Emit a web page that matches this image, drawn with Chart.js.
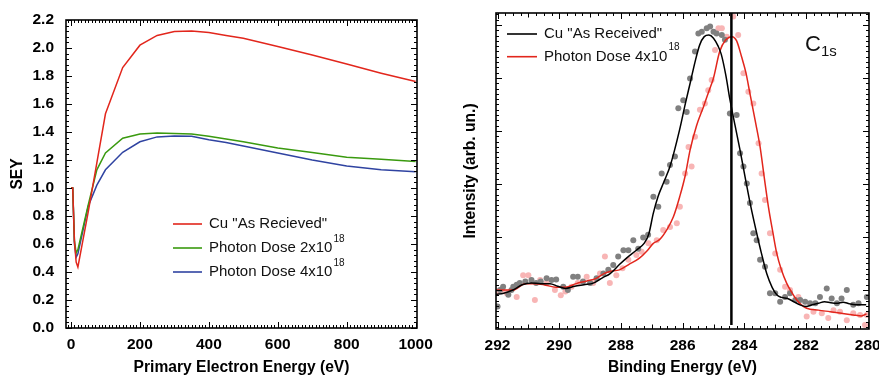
<!DOCTYPE html>
<html>
<head>
<meta charset="utf-8">
<script src="https://cdn.jsdelivr.net/npm/chart.js@4.4.1/dist/chart.umd.min.js"></script>
<style>
  html, body { margin: 0; padding: 0; background: #fff; }
  #wrap { position: relative; width: 879px; height: 378px; }
  canvas { position: absolute; top: 0; }
</style>
</head>
<body>
<div id="wrap">
  <canvas id="seyChart" width="440" height="378" style="left:0"></canvas>
  <canvas id="xpsChart" width="439" height="378" style="left:440px"></canvas>
</div>
<script>
// --- left panel: SEY vs primary energy ---
const seyEnergy = [0, 5, 10, 15, 20, 50, 75, 100, 150, 200, 250, 300, 350, 400, 450, 500, 600, 700, 800, 900, 1000];
const seyAsReceived = [1.0, 1.0, 0.62, 0.47, 0.435, 0.83, 1.18, 1.53, 1.86, 2.02, 2.09, 2.118, 2.122, 2.11, 2.09, 2.07, 2.01, 1.95, 1.885, 1.82, 1.76];
const seyDose2e18 = [1.0, 1.0, 0.62, 0.535, 0.56, 0.88, 1.13, 1.25, 1.355, 1.385, 1.392, 1.39, 1.385, 1.37, 1.35, 1.33, 1.285, 1.253, 1.22, 1.205, 1.19];
const seyDose4e18 = [1.0, 1.0, 0.6, 0.505, 0.53, 0.87, 1.02, 1.13, 1.255, 1.33, 1.365, 1.372, 1.37, 1.345, 1.325, 1.30, 1.25, 1.2, 1.157, 1.13, 1.116];
const seyXTicks = [0, 200, 400, 600, 800, 1000];
const seyYTicks = [0.0, 0.2, 0.4, 0.6, 0.8, 1.0, 1.2, 1.4, 1.6, 1.8, 2.0, 2.2];

// --- right panel: C1s XPS spectra ---
const blackLineE = [292.05, 291.8, 291.5, 291.2, 290.9, 290.6, 290.3, 290.05, 289.8, 289.5, 289.2, 288.9, 288.6, 288.35, 288.05, 287.8, 287.5, 287.25, 287.1, 286.95, 286.8, 286.6, 286.4, 286.1, 285.9, 285.75, 285.6, 285.45, 285.3, 285.15, 285.0, 284.85, 284.75, 284.6, 284.47, 284.3, 284.14, 283.95, 283.8, 283.6, 283.45, 283.27, 283.1, 282.95, 282.8, 282.6, 282.4, 282.2, 282.0, 281.8, 281.6, 281.4, 281.2, 281.0, 280.8, 280.6, 280.4, 280.2, 280.05];
const blackLineI = [0.92, 0.94, 1.0, 1.10, 1.13, 1.12, 1.12, 1.07, 1.03, 1.07, 1.10, 1.13, 1.23, 1.31, 1.48, 1.61, 1.75, 1.88, 2.05, 2.45, 2.76, 3.05, 3.35, 4.02, 4.55, 4.92, 5.3, 5.62, 5.78, 5.81, 5.75, 5.6, 5.45, 5.05, 4.6, 4.1, 3.64, 3.05, 2.6, 2.07, 1.7, 1.3, 1.05, 0.91, 0.86, 0.84, 0.78, 0.72, 0.69, 0.72, 0.75, 0.78, 0.76, 0.75, 0.77, 0.74, 0.72, 0.72, 0.72];
const redLineE = [292.05, 291.5, 291.1, 290.8, 290.5, 290.1, 289.8, 289.45, 289.1, 288.8, 288.55, 288.35, 288.05, 287.75, 287.4, 287.15, 286.95, 286.75, 286.5, 286.3, 286.1, 285.92, 285.76, 285.55, 285.33, 285.15, 285.0, 284.8, 284.6, 284.4, 284.25, 284.09, 283.95, 283.82, 283.65, 283.49, 283.35, 283.22, 283.08, 282.95, 282.8, 282.63, 282.45, 282.3, 282.15, 281.98, 281.6, 281.22, 280.85, 280.47, 280.2, 280.04];
const redLineI = [1.0, 1.0, 1.12, 1.12, 1.1, 1.05, 1.05, 1.12, 1.17, 1.22, 1.31, 1.35, 1.38, 1.48, 1.6, 1.74, 1.88, 1.95, 2.15, 2.38, 2.75, 3.15, 3.64, 4.1, 4.45, 4.75, 5.0, 5.5, 5.72, 5.78, 5.7, 5.4, 5.1, 4.71, 4.2, 3.7, 3.1, 2.57, 2.1, 1.69, 1.38, 1.13, 0.94, 0.81, 0.72, 0.655, 0.62, 0.59, 0.56, 0.53, 0.51, 0.55];
const grayDotE = [292.0, 291.92, 291.82, 291.65, 291.55, 291.49, 291.38, 291.28, 291.1, 290.9, 290.75, 290.6, 290.41, 290.25, 290.1, 289.87, 289.72, 289.55, 289.4, 289.23, 289.0, 288.79, 288.57, 288.41, 288.25, 288.09, 287.92, 287.76, 287.6, 287.44, 287.28, 287.12, 286.95, 286.79, 286.68, 286.52, 286.41, 286.25, 286.14, 285.98, 285.87, 285.76, 285.6, 285.49, 285.38, 285.22, 285.11, 285.0, 284.9, 284.73, 284.63, 284.47, 284.25, 284.14, 284.03, 283.92, 283.82, 283.71, 283.6, 283.49, 283.33, 283.17, 283.0, 282.84, 282.68, 282.52, 282.35, 282.19, 282.03, 281.87, 281.7, 281.55, 281.33, 281.17, 281.0, 280.85, 280.68, 280.47, 280.3, 280.03];
const grayDotI = [0.69, 1.0, 1.06, 0.91, 1.0, 1.06, 1.1, 1.13, 1.16, 1.19, 1.13, 1.16, 1.22, 1.19, 1.2, 1.06, 1.0, 1.25, 1.25, 1.16, 1.13, 1.22, 1.31, 1.38, 1.47, 1.63, 1.75, 1.75, 1.94, 1.78, 1.99, 2.04, 2.76, 2.57, 3.2, 3.04, 3.36, 3.52, 4.43, 4.58, 4.36, 4.99, 5.5, 5.84, 5.87, 5.94, 5.97, 5.87, 5.84, 5.81, 5.72, 4.33, 4.3, 3.58, 3.33, 3.01, 2.64, 2.07, 1.94, 1.57, 1.44, 0.94, 0.94, 0.78, 0.87, 0.94, 0.81, 0.81, 0.78, 0.75, 0.75, 0.87, 1.03, 0.84, 0.75, 0.84, 1.0, 0.72, 0.75, 0.87];
const pinkDotE = [292.0, 291.85, 291.7, 291.38, 291.17, 291.0, 290.79, 290.62, 290.41, 290.14, 289.95, 289.8, 289.6, 289.4, 289.11, 288.9, 288.68, 288.52, 288.36, 288.15, 287.95, 287.76, 287.5, 287.33, 287.11, 286.84, 286.63, 286.41, 286.19, 286.09, 285.92, 285.81, 285.71, 285.6, 285.44, 285.28, 285.17, 285.06, 284.95, 284.84, 284.73, 284.57, 284.36, 284.2, 284.03, 283.87, 283.71, 283.54, 283.44, 283.33, 283.17, 283.0, 282.84, 282.68, 282.52, 282.25, 281.98, 281.76, 281.49, 281.28, 281.11, 280.9, 280.68, 280.47, 280.25, 280.09, 280.03];
const pinkDotI = [0.97, 1.0, 0.94, 0.87, 1.28, 1.28, 0.81, 1.19, 1.13, 1.0, 0.9, 0.97, 1.06, 1.13, 1.25, 1.13, 1.31, 1.63, 1.13, 1.28, 1.41, 1.57, 1.66, 1.72, 1.88, 1.94, 2.13, 2.19, 2.26, 2.57, 3.2, 3.7, 3.33, 3.89, 4.4, 4.52, 4.77, 4.96, 5.53, 5.94, 5.94, 5.78, 6.16, 5.81, 5.09, 4.74, 4.52, 3.77, 3.2, 2.7, 2.07, 1.69, 1.38, 1.06, 1.0, 0.87, 0.5, 0.59, 0.56, 0.47, 0.62, 0.59, 0.43, 0.56, 0.53, 0.34, 0.53];
const xpsXTicks = [292, 290, 288, 286, 284, 282, 280];
const markerEnergy = 284.42;

const FONT = "'Liberation Sans', Helvetica, Arial, sans-serif";

function pts(xs, ys) {
  return xs.map((x, i) => ({ x: x, y: ys[i] }));
}

// frame + inward ticks on all four sides
const frameTicks = {
  id: "frameTicks",
  afterDatasetsDraw(chart, args, o) {
    const { ctx, chartArea: a, scales } = chart;
    ctx.save();
    ctx.strokeStyle = "#000";
    ctx.lineWidth = 1;
    function each(scale, step, fn) {
      const lo = Math.min(scale.min, scale.max), hi = Math.max(scale.min, scale.max);
      for (let k = Math.ceil(lo / step - 1e-6); k * step <= hi + 1e-6; k++) fn(scale.getPixelForValue(k * step), k * step);
    }
    const isMul = (v, m) => Math.abs(v / m - Math.round(v / m)) < 1e-6;
    ctx.beginPath();
    each(scales.x, o.xMinor, (p, v) => {
      let len = isMul(v, o.xMajor) ? 6 : (o.xMid && isMul(v, o.xMid) ? 4.5 : 3);
      p = Math.round(p) + 0.5;
      ctx.moveTo(p, a.bottom); ctx.lineTo(p, a.bottom - len);
      ctx.moveTo(p, a.top); ctx.lineTo(p, a.top + len);
    });
    each(scales.y, o.yMinor, (p, v) => {
      let len = isMul(v, o.yMajor) ? 6 : 3;
      p = Math.round(p) + 0.5;
      ctx.moveTo(a.left, p); ctx.lineTo(a.left + len, p);
      ctx.moveTo(a.right, p); ctx.lineTo(a.right - len, p);
    });
    ctx.stroke();
    ctx.lineWidth = 1.6;
    ctx.strokeRect(a.left, a.top, a.right - a.left, a.bottom - a.top);
    ctx.restore();
  }
};

// legend drawn inside the plot
const innerLegend = {
  id: "innerLegend",
  afterDraw(chart, args, o) {
    const ctx = chart.ctx;
    ctx.save();
    ctx.textBaseline = "middle";
    o.items.forEach((it, i) => {
      const y = o.y + i * o.gap;
      ctx.strokeStyle = it.color;
      ctx.lineWidth = 1.6;
      ctx.beginPath();
      ctx.moveTo(o.x, y); ctx.lineTo(o.x + o.len, y);
      ctx.stroke();
      ctx.fillStyle = "#111";
      ctx.font = "15px " + FONT;
      const tx = o.x + o.len + o.pad;
      ctx.fillText(it.text, tx, y);
      if (it.sup) {
        const w = ctx.measureText(it.text).width;
        ctx.font = "10px " + FONT;
        ctx.fillText(it.sup, tx + w + 1, y - 9);
      }
    });
    if (o.label) {
      ctx.font = "22px " + FONT;
      ctx.fillText(o.label.main, o.label.x, o.label.y);
      const w = ctx.measureText(o.label.main).width;
      ctx.font = "15px " + FONT;
      ctx.fillText(o.label.sub, o.label.x + w, o.label.y + 7);
    }
    ctx.restore();
  }
};

// keep the plot box where it is, whatever the tick label widths
function noEdgePad(s) {
  s.paddingLeft = 0; s.paddingRight = 0; s.paddingTop = 0; s.paddingBottom = 0;
}

const tickFont = { family: FONT, size: 15.5, weight: "bold" };
const titleFont = { family: FONT, size: 15.6, weight: "bold" };

new Chart(document.getElementById("seyChart"), {
  type: "line",
  data: {
    datasets: [
      { data: pts(seyEnergy, seyAsReceived), borderColor: "#e2261c" },
      { data: pts(seyEnergy, seyDose2e18), borderColor: "#3a9a0f" },
      { data: pts(seyEnergy, seyDose4e18), borderColor: "#2f43a1" }
    ].map(d => Object.assign(d, { borderWidth: 1.5, pointRadius: 0, tension: 0, fill: false }))
  },
  options: {
    responsive: false,
    animation: false,
    layout: { padding: { left: 0, right: 23, top: 20, bottom: 1 } },
    plugins: {
      legend: { display: false },
      tooltip: { enabled: false },
      frameTicks: { xMinor: 10, xMajor: 200, yMinor: 0.04, yMajor: 0.2 },
      innerLegend: {
        x: 173, y: 224, gap: 24, len: 29, pad: 7,
        items: [
          { color: "#e2261c", text: "Cu \"As Recieved\"" },
          { color: "#3a9a0f", text: "Photon Dose 2x10", sup: "18" },
          { color: "#2f43a1", text: "Photon Dose 4x10", sup: "18" }
        ]
      }
    },
    scales: {
      x: {
        type: "linear", min: -14.5, max: 1004,
        grid: { display: false }, border: { display: false },
        afterBuildTicks: s => { s.ticks = seyXTicks.map(v => ({ value: v })); },
        afterFit: s => { s.height = 49; noEdgePad(s); },
        ticks: { color: "#000", font: tickFont, padding: -1, maxRotation: 0, callback: v => String(v) },
        title: { display: true, text: "Primary Electron Energy (eV)", color: "#000", font: titleFont, padding: { top: 0, bottom: 0 } }
      },
      y: {
        min: 0, max: 2.2,
        grid: { display: false }, border: { display: false },
        afterBuildTicks: s => { s.ticks = seyYTicks.map(v => ({ value: v })); },
        afterFit: s => { s.width = 66; noEdgePad(s); },
        ticks: { color: "#000", font: tickFont, padding: 4, callback: v => v.toFixed(1) },
        title: { display: true, text: "SEY", color: "#000", font: titleFont, padding: { top: 8, bottom: 0 } }
      }
    }
  },
  plugins: [frameTicks, innerLegend]
});

new Chart(document.getElementById("xpsChart"), {
  type: "line",
  data: {
    datasets: [
      { data: [{ x: markerEnergy, y: 0.34 }, { x: markerEnergy, y: 6.23 }], borderColor: "#000", borderWidth: 2.5, pointRadius: 0, tension: 0 },
      { data: pts(blackLineE, blackLineI), borderColor: "#000", borderWidth: 1.5, pointRadius: 0, cubicInterpolationMode: "monotone" },
      { data: pts(redLineE, redLineI), borderColor: "#e2261c", borderWidth: 1.5, pointRadius: 0, cubicInterpolationMode: "monotone" },
      { data: pts(grayDotE, grayDotI), showLine: false, pointRadius: 3, pointBorderWidth: 0, pointBackgroundColor: "#808080", borderColor: "#808080" },
      { data: pts(pinkDotE, pinkDotI), showLine: false, pointRadius: 3, pointBorderWidth: 0, pointBackgroundColor: "#f8b5b5", borderColor: "#f8b5b5" }
    ]
  },
  options: {
    responsive: false,
    animation: false,
    layout: { padding: { left: 0, right: 10, top: 13, bottom: 1 } },
    plugins: {
      legend: { display: false },
      tooltip: { enabled: false },
      frameTicks: { xMinor: 0.25, xMajor: 2, xMid: 1, yMinor: 0.1, yMajor: 1 },
      innerLegend: {
        x: 67, y: 34, gap: 22.7, len: 30, pad: 7,
        items: [
          { color: "#000", text: "Cu \"As Received\"" },
          { color: "#e2261c", text: "Photon Dose 4x10", sup: "18" }
        ],
        label: { main: "C", sub: "1s", x: 365, y: 45 }
      }
    },
    scales: {
      x: {
        type: "linear", min: 279.96, max: 292.05, reverse: true,
        grid: { display: false }, border: { display: false },
        afterBuildTicks: s => { s.ticks = xpsXTicks.map(v => ({ value: v })); },
        afterFit: s => { s.height = 48; noEdgePad(s); },
        ticks: { color: "#000", font: tickFont, padding: -1, maxRotation: 0, callback: v => String(v) },
        title: { display: true, text: "Binding Energy (eV)", color: "#000", font: titleFont, padding: { top: 0, bottom: 0 } }
      },
      y: {
        min: 0.264, max: 6.226,
        grid: { display: false }, border: { display: false },
        afterFit: s => { s.width = 56; noEdgePad(s); },
        ticks: { display: false },
        title: { display: true, text: "Intensity (arb. un.)", color: "#000", font: titleFont, padding: { top: 21, bottom: 0 } }
      }
    }
  },
  plugins: [frameTicks, innerLegend]
});
</script>
</body>
</html>
